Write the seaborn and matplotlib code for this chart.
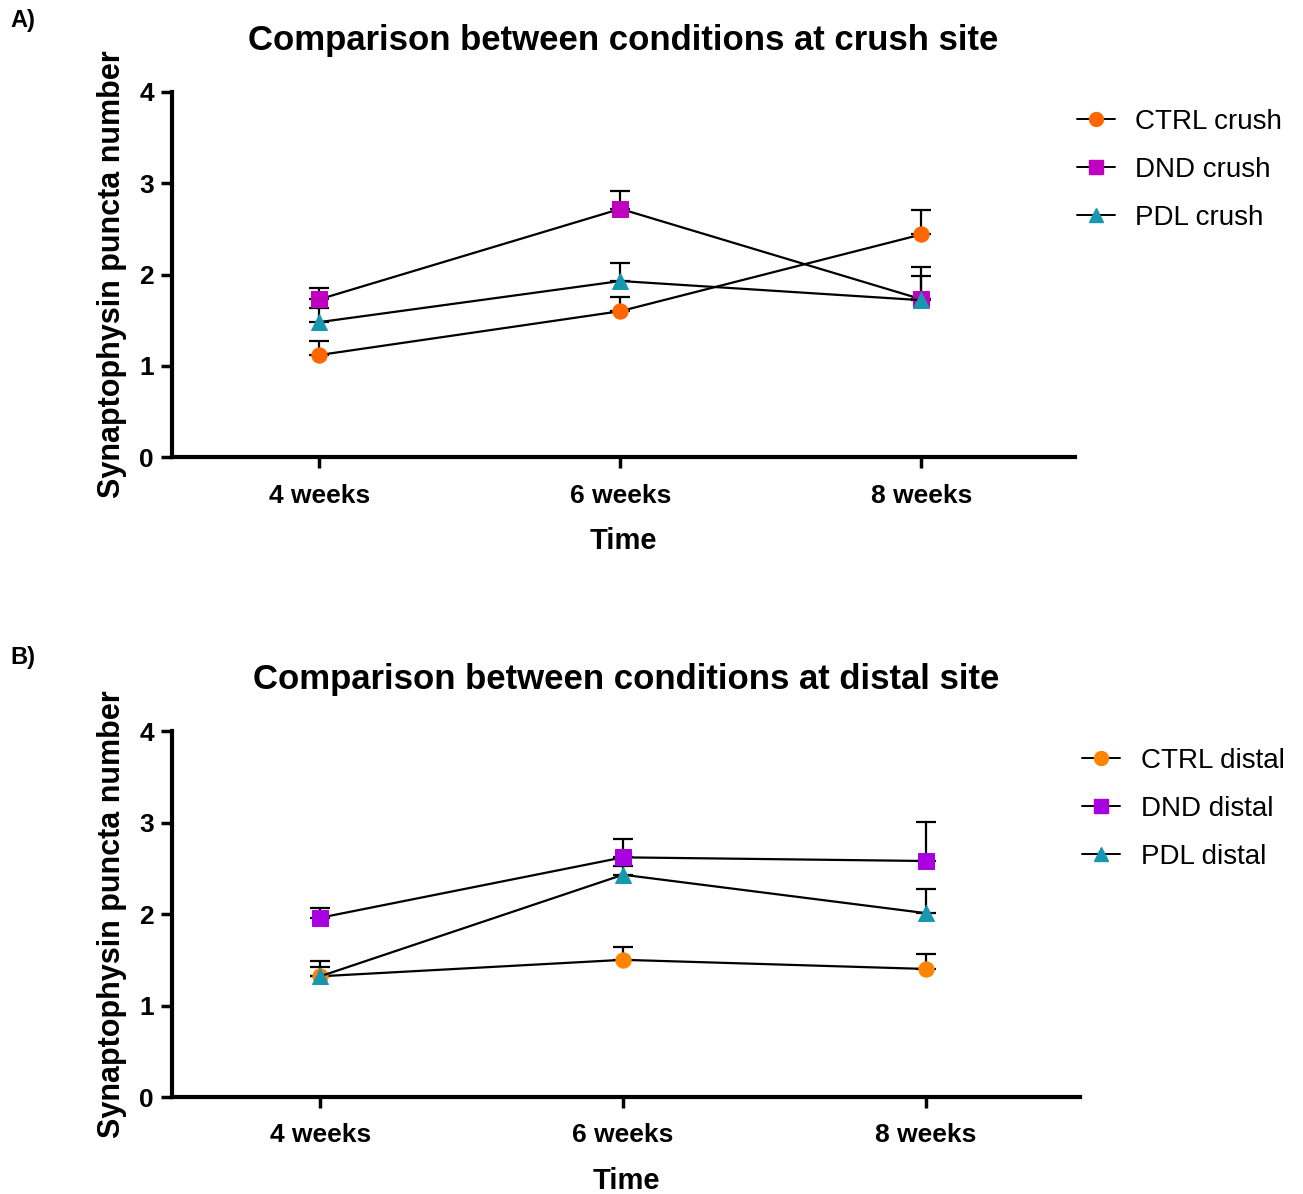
import numpy as np
import pandas as pd
import matplotlib
matplotlib.use("Agg")
import matplotlib.pyplot as plt
from matplotlib.lines import Line2D
import seaborn as sns

weeks = ["4 weeks", "6 weeks", "8 weeks"]

# panel A - crush site (mean, upper error)
ctrl_crush = [1.12, 1.60, 2.44]
ctrl_crush_err = [0.15, 0.16, 0.27]
dnd_crush = [1.73, 2.72, 1.73]
dnd_crush_err = [0.12, 0.20, 0.35]
pdl_crush = [1.48, 1.93, 1.72]
pdl_crush_err = [0.15, 0.20, 0.26]

# panel B - distal site
ctrl_distal = [1.32, 1.50, 1.40]
ctrl_distal_err = [0.17, 0.14, 0.16]
dnd_distal = [1.96, 2.62, 2.58]
dnd_distal_err = [0.11, 0.20, 0.43]
pdl_distal = [1.32, 2.43, 2.01]
pdl_distal_err = [0.10, 0.10, 0.26]

sns.set_style("ticks")
plt.rcParams['font.family'] = ['Liberation Sans', 'DejaVu Sans']
plt.rcParams.update({'text.color': 'black', 'axes.labelcolor': 'black',
                     'xtick.color': 'black', 'ytick.color': 'black',
                     'axes.edgecolor': 'black'})


def draw_panel(ax, series, colors, title):
    x = np.arange(len(weeks))
    for (name, vals, errs, marker), col in zip(series, colors):
        df = pd.DataFrame({"x": x, "y": vals})
        ax.errorbar(x, vals, yerr=[np.zeros(len(errs)), errs], fmt='none',
                    ecolor='black', elinewidth=1.6, capsize=7, capthick=1.6, zorder=2)
        sns.lineplot(data=df, x="x", y="y", ax=ax, color='black', linewidth=1.6,
                     marker=marker, markersize=11, markerfacecolor=col,
                     markeredgecolor=col, zorder=3)
    ax.set_xlim(-0.49, 2.51)
    ax.set_ylim(0, 4)
    ax.set_xticks(x)
    ax.set_xticklabels(weeks, fontsize=19, fontweight='bold')
    ax.set_yticks([0, 1, 2, 3, 4])
    ax.set_yticklabels(["0", "1", "2", "3", "4"], fontsize=19, fontweight='bold')
    ax.set_xlabel("Time", fontsize=21, fontweight='bold', labelpad=14)
    ax.set_ylabel("Synaptophysin puncta number", fontsize=22, fontweight='bold', labelpad=9)
    ax.set_title(title, fontsize=25, fontweight='bold', pad=30)
    for s in ["left", "bottom"]:
        ax.spines[s].set_linewidth(3)
    sns.despine(ax=ax)
    ax.tick_params(axis='both', width=2.5, length=8)
    ax.tick_params(axis='x', pad=11)
    ax.tick_params(axis='y', pad=5)

    handles = [Line2D([0], [0], color='black', linewidth=1.4, marker=m,
                      markersize=10, markerfacecolor=c, markeredgecolor=c)
               for (_, _, _, m), c in zip(series, colors)]
    ax.legend(handles, [s[0] for s in series], loc='upper left',
              bbox_to_anchor=(0.99, 0.985), borderaxespad=0, borderpad=0.4,
              frameon=False, fontsize=20,
              handlelength=1.35, labelspacing=0.8, handletextpad=0.75)


fig = plt.figure(figsize=(13.03, 11.94), dpi=100)
ax1 = fig.add_axes([0.132, 0.617, 0.693, 0.306])
ax2 = fig.add_axes([0.132, 0.0812, 0.697, 0.3065])

draw_panel(ax1,
           [("CTRL crush", ctrl_crush, ctrl_crush_err, 'o'),
            ("DND crush", dnd_crush, dnd_crush_err, 's'),
            ("PDL crush", pdl_crush, pdl_crush_err, '^')],
           ["#FF6600", "#C000C0", "#1797B0"],
           "Comparison between conditions at crush site")
draw_panel(ax2,
           [("CTRL distal", ctrl_distal, ctrl_distal_err, 'o'),
            ("DND distal", dnd_distal, dnd_distal_err, 's'),
            ("PDL distal", pdl_distal, pdl_distal_err, '^')],
           ["#FF8400", "#A800E0", "#1797B0"],
           "Comparison between conditions at distal site")

fig.text(0.008, 0.983, "A)", fontsize=17, fontweight='bold', va='center')
fig.text(0.008, 0.449, "B)", fontsize=17, fontweight='bold', va='center')

fig.savefig("out.png", dpi=100)
